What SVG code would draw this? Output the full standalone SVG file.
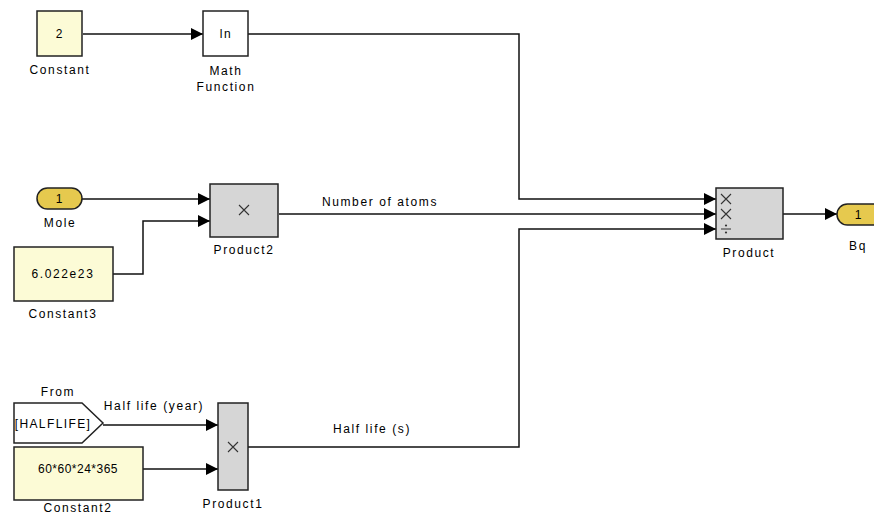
<svg xmlns="http://www.w3.org/2000/svg" width="874" height="514" viewBox="0 0 874 514">
<style>
text{font-family:"Liberation Sans",Arial,sans-serif;font-size:12px;letter-spacing:1.6px;fill:#000;text-anchor:middle}
.blk{stroke:#222;stroke-width:1.5}
.const{fill:#fcfbd6}
.prod{fill:#d6d6d6}
.port{fill:#e6c94e}
.white{fill:#fff}
.wire{fill:none;stroke:#111;stroke-width:1.5}
.sym{fill:none;stroke:#333;stroke-width:1.1}
</style>
<defs>
<marker id="arr" viewBox="0 0 10 10" refX="10" refY="5" markerWidth="15" markerHeight="12" markerUnits="userSpaceOnUse" orient="auto">
<path d="M0,0 L10,5 L0,10 Z" fill="#000"/>
</marker>
</defs>
<rect width="874" height="514" fill="#fff"/>
<g id="connectors">
<path class="wire" d="M83,34 H203" marker-end="url(#arr)"/>
<path class="wire" d="M248,34 H519 V199 H716" marker-end="url(#arr)"/>
<path class="wire" d="M82,199 H210" marker-end="url(#arr)"/>
<path class="wire" d="M113,274 H143 V221 H210" marker-end="url(#arr)"/>
<path class="wire" d="M279,214 H716" marker-end="url(#arr)"/>
<path class="wire" d="M248,447 H519 V229 H716" marker-end="url(#arr)"/>
<path class="wire" d="M103,425 H218" marker-end="url(#arr)"/>
<path class="wire" d="M143,469 H218" marker-end="url(#arr)"/>
<path class="wire" d="M783,214 H837" marker-end="url(#arr)"/>
<text x="380" y="206">Number of atoms</text>
<text x="154" y="410">Half life (year)</text>
<text x="372" y="433">Half life (s)</text>
</g>
<g id="constant">
<rect class="blk const" x="37" y="11" width="45" height="45"/>
<text x="60" y="38">2</text>
<text x="60" y="74">Constant</text>
</g>
<g id="math-function">
<rect class="blk white" x="203" y="11" width="45" height="45"/>
<text x="226" y="38">ln</text>
<text x="226" y="75">Math</text>
<text x="226" y="91">Function</text>
</g>
<g id="mole">
<rect class="blk port" x="37" y="188" width="45" height="21" rx="10.5"/>
<text x="60" y="203">1</text>
<text x="60" y="227">Mole</text>
</g>
<g id="constant3">
<rect class="blk const" x="14" y="247" width="99" height="54"/>
<text x="63" y="278">6.022e23</text>
<text x="63" y="318">Constant3</text>
</g>
<g id="product2">
<rect class="blk prod" x="210" y="184" width="68" height="53"/>
<path class="sym" d="M239,205 L249,215 M249,205 L239,215"/>
<text x="244" y="254">Product2</text>
</g>
<g id="product">
<rect class="blk prod" x="716" y="188" width="67" height="51"/>
<path class="sym" d="M721,194 L731,204 M731,194 L721,204 M721,209 L731,219 M731,209 L721,219 M721,229 H731"/>
<circle cx="726" cy="225.5" r="1.1" fill="#333"/>
<circle cx="726" cy="232.5" r="1.1" fill="#333"/>
<text x="749" y="257">Product</text>
</g>
<g id="bq">
<rect class="blk port" x="837" y="204" width="50" height="21" rx="10.5"/>
<text x="859" y="219">1</text>
<text x="858" y="250">Bq</text>
</g>
<g id="from">
<path class="blk white" d="M14,403 H82 L103,423 L82,443 H14 Z"/>
<text x="53" y="428" style="letter-spacing:1.4px">[HALFLIFE]</text>
<text x="58" y="396">From</text>
</g>
<g id="constant2">
<rect class="blk const" x="14" y="447" width="129" height="53"/>
<text x="78" y="473" style="letter-spacing:0.5px">60*60*24*365</text>
<text x="78" y="512">Constant2</text>
</g>
<g id="product1">
<rect class="blk prod" x="218" y="403" width="30" height="87"/>
<path class="sym" d="M228,442 L238,452 M238,442 L228,452"/>
<text x="233" y="508">Product1</text>
</g>
</svg>
